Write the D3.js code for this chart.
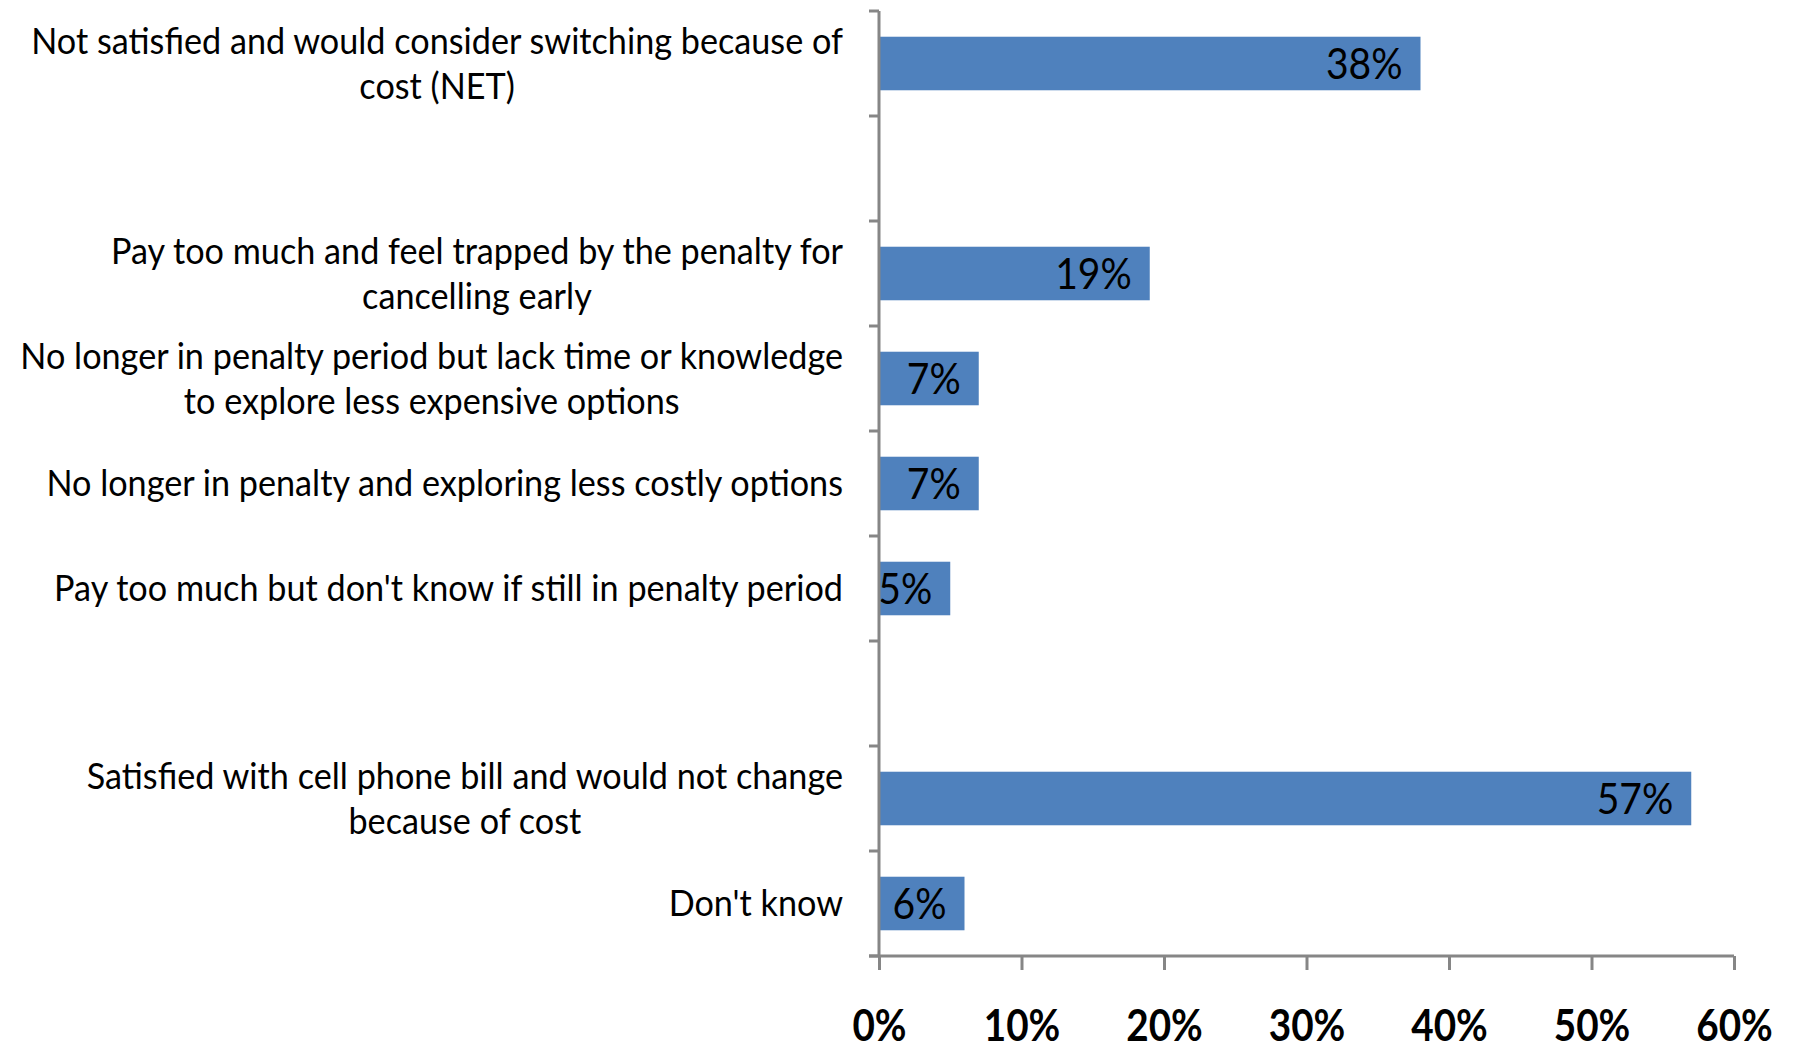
<!DOCTYPE html>
<html>
<head>
<meta charset="utf-8">
<script src="https://cdn.jsdelivr.net/npm/d3@7"></script>
<style>
  html, body { margin: 0; padding: 0; background: #fff; }
  svg { display: block; }
  text { font-family: Lato, "Liberation Sans", sans-serif; fill: #000; }
</style>
</head>
<body>
<svg id="chart" width="1793" height="1051"></svg>
<script>
// Survey responses about cell phone bills (blank rows separate the groups)
const categories = [
  "Not satisfied and would consider switching because of\ncost (NET)",
  "",
  "Pay too much and feel trapped by the penalty for\ncancelling early",
  "No longer in penalty period but lack time or knowledge\nto explore less expensive options",
  "No longer in penalty and exploring less costly options",
  "Pay too much but don't know if still in penalty period",
  "",
  "Satisfied with cell phone bill and would not change\nbecause of cost",
  "Don't know"
];
const values = [38, null, 19, 7, 7, 5, null, 57, 6];
const xTicks = [0, 10, 20, 30, 40, 50, 60];
const xTickLabels = ["0%", "10%", "20%", "30%", "40%", "50%", "60%"];

const W = 1793, H = 1051;
const margin = { top: 11, right: 59, bottom: 95, left: 879 };
const barColor = "#4F81BD";
const axisColor = "#868686";

const svg = d3.select("#chart");

const x = d3.scaleLinear()
  .domain([0, 60])
  .range([margin.left, W - margin.right]);

const y = d3.scaleBand()
  .domain(d3.range(categories.length))
  .range([margin.top, H - margin.bottom])
  .paddingInner(0.49)
  .paddingOuter(0.245);

const step = y.step();
const bandTop = i => y(i) - step * y.paddingInner() / 2;

// Bars
const rows = values.map((v, i) => ({ i, v })).filter(d => d.v != null);

svg.append("g")
  .selectAll("rect")
  .data(rows)
  .join("rect")
  .attr("x", x(0))
  .attr("y", d => y(d.i))
  .attr("width", d => x(d.v) - x(0))
  .attr("height", y.bandwidth())
  .attr("fill", barColor);

// Value labels, right-aligned inside the bar end
const valSqueeze = 0.93;
svg.append("g")
  .selectAll("text")
  .data(rows)
  .join("text")
  .attr("transform", d => `translate(${x(d.v) - 18},${y(d.i) + y.bandwidth() / 2}) scale(${valSqueeze},1)`)
  .attr("text-anchor", "end")
  .attr("dy", "0.36em")
  .style("font-size", "42px")
  .text(d => d.v + "%");

// Category axis: line plus ticks on band boundaries
const yAxis = svg.append("g");
yAxis.append("line")
  .attr("x1", x(0)).attr("x2", x(0))
  .attr("y1", margin.top).attr("y2", H - margin.bottom)
  .attr("stroke", axisColor).attr("stroke-width", 3);

const boundaries = d3.range(categories.length + 1).map(i =>
  i < categories.length ? bandTop(i) : bandTop(i - 1) + step);
yAxis.selectAll("line.tick")
  .data(boundaries)
  .join("line")
  .attr("class", "tick")
  .attr("x1", x(0) - 10).attr("x2", x(0))
  .attr("y1", d => d).attr("y2", d => d)
  .attr("stroke", axisColor).attr("stroke-width", 3);

// Category labels: each line centred within the label block, block right-aligned
const catSqueeze = 0.95;
const lineH = 45.7;
const labelRight = x(0) - 36;
categories.forEach((c, i) => {
  if (!c) return;
  const lines = c.split("\n");
  const g = svg.append("g")
    .attr("transform", `translate(${labelRight},${y(i) + y.bandwidth() / 2}) scale(${catSqueeze},1)`);
  const texts = lines.map((ln, j) => g.append("text")
    .attr("text-anchor", "middle")
    .attr("y", (j - (lines.length - 1) / 2) * lineH)
    .attr("dy", "0.36em")
    .style("font-size", "36px")
    .text(ln));
  const maxW = d3.max(texts, t => t.node().getComputedTextLength());
  texts.forEach(t => t.attr("x", -maxW / 2));
});

// Value axis along the bottom
const xAxis = d3.axisBottom(x)
  .tickValues(xTicks)
  .tickFormat((d, i) => xTickLabels[i])
  .tickSize(14)
  .tickSizeOuter(0)
  .tickPadding(0);

const gx = svg.append("g")
  .attr("transform", `translate(0,${H - margin.bottom})`)
  .call(xAxis);
gx.select(".domain")
  .attr("stroke", axisColor).attr("stroke-width", 3)
  .attr("d", `M${x(0) - 10},0H${x(60)}`);
gx.selectAll(".tick line").attr("stroke", axisColor).attr("stroke-width", 3);
gx.selectAll(".tick text")
  .attr("y", 85)
  .attr("dy", 0)
  .attr("transform", "scale(0.9,1)")
  .style("font-size", "43px")
  .style("font-weight", "bold")
  .attr("fill", "#000");
</script>
</body>
</html>
